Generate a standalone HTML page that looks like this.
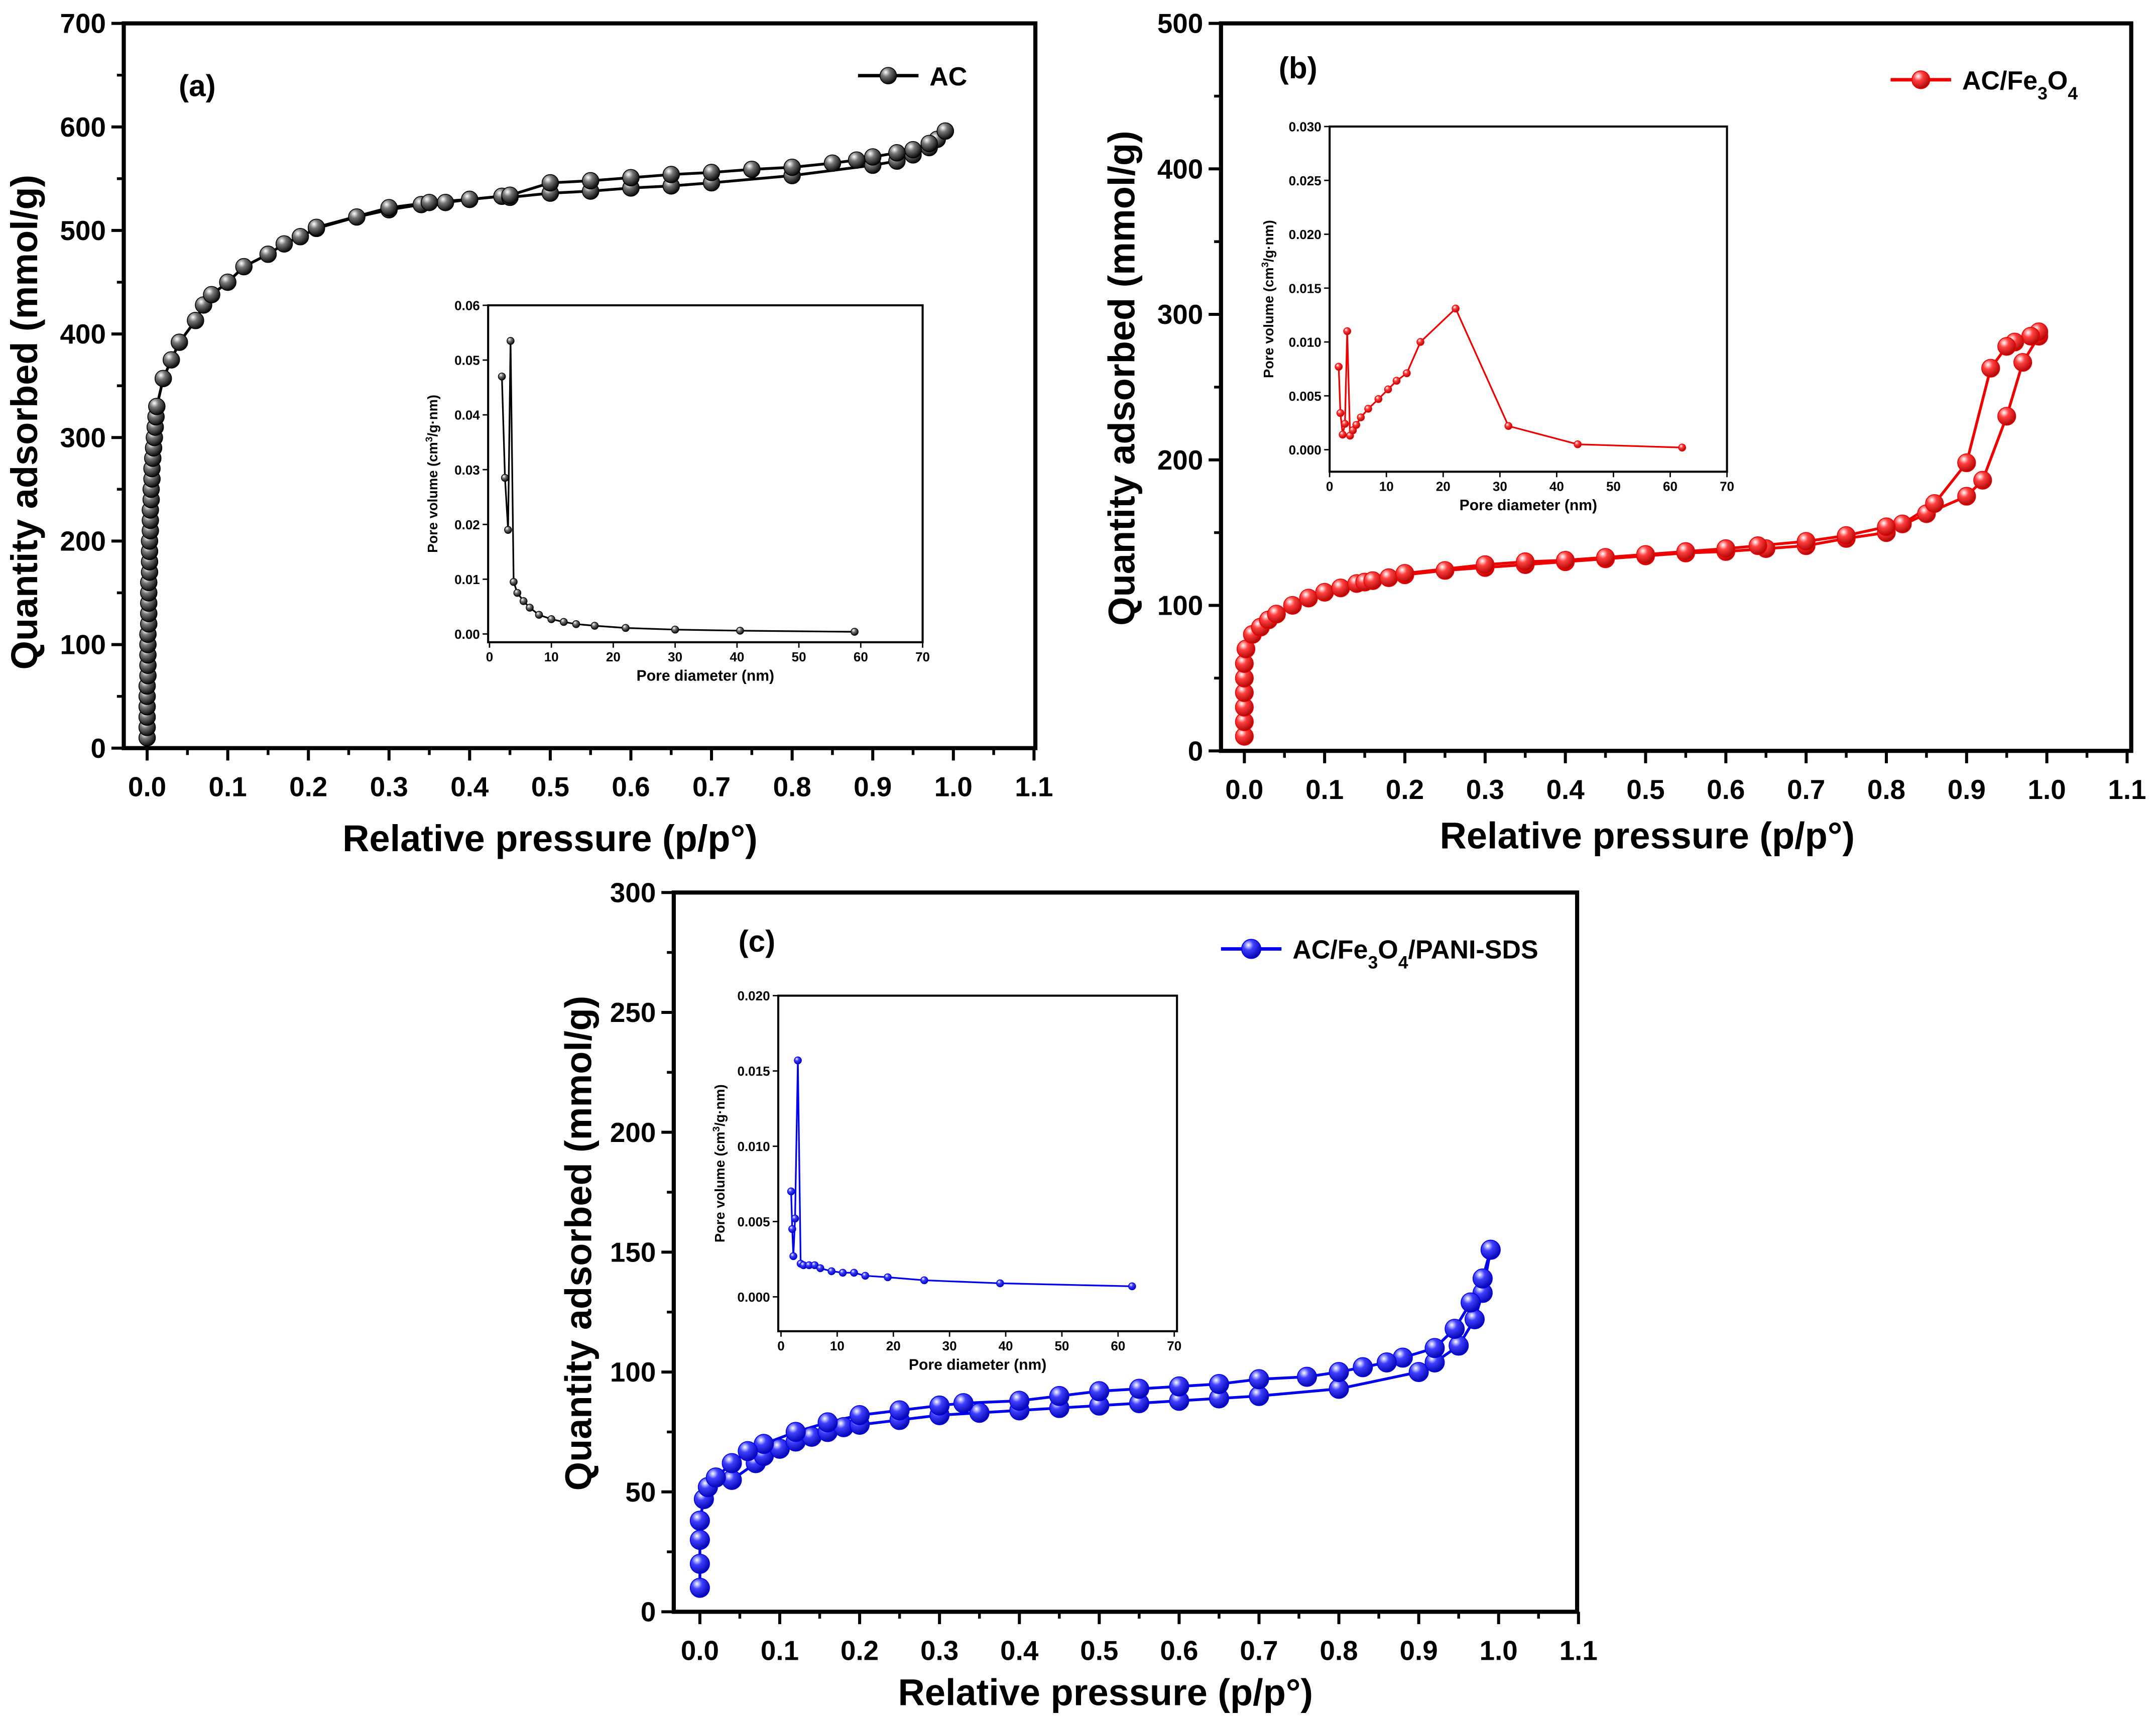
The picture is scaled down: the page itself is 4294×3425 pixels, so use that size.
<!DOCTYPE html>
<html><head><meta charset="utf-8"><style>
html,body{margin:0;padding:0;background:#fff}
svg{display:block}
text{font-family:"Liberation Sans",sans-serif}
</style></head><body>
<svg id="c" xmlns="http://www.w3.org/2000/svg" width="4294" height="3425" viewBox="0 0 1568 1250.7">
<defs>
<radialGradient id="gk" cx="0.35" cy="0.3" r="0.75"><stop offset="0" stop-color="#fff"/><stop offset="0.35" stop-color="#777"/><stop offset="1" stop-color="#000"/></radialGradient>
<radialGradient id="gr" cx="0.35" cy="0.3" r="0.75"><stop offset="0" stop-color="#fff"/><stop offset="0.35" stop-color="#ff4040"/><stop offset="1" stop-color="#a00"/></radialGradient>
<radialGradient id="gb" cx="0.35" cy="0.3" r="0.75"><stop offset="0" stop-color="#fff"/><stop offset="0.35" stop-color="#4040ff"/><stop offset="1" stop-color="#00a"/></radialGradient>
</defs>
</svg>
<script>
// ---- data ----
const aAdsX=[0,0,0,0,0,0,0.001,0.001,0.001,0.001,0.001,0.002,0.002,0.002,0.002,0.002,0.003,0.003,0.003,0.003,0.004,0.004,0.004,0.005,0.005,0.006,0.006,0.007,0.008,0.009,0.01,0.011,0.012,0.02,0.03,0.04,0.06,0.07,0.08,0.1,0.12,0.15,0.17,0.19,0.21,0.26,0.3,0.34,0.37,0.4,0.44,0.45,0.5,0.55,0.6,0.65,0.7,0.8,0.9,0.93,0.95,0.97,0.98,0.99];
const aAdsY=[10,20,30,40,50,60,70,80,90,100,110,120,130,140,150,160,170,180,190,200,210,220,230,240,250,260,270,280,290,300,310,320,330,357,375,392,413,428,438,450,465,477,487,494,502,513,520,525,527,530,533,532,536,538,541,543,546,553,563,567,573,580,588,596];
const aDesX=[0.99,0.97,0.95,0.93,0.9,0.88,0.85,0.8,0.75,0.7,0.65,0.6,0.55,0.5,0.45,0.4,0.35,0.3,0.21];
const aDesY=[596,584,578,575,571,568,565,561,559,556,554,551,548,546,534,530,527,522,503];
const aInX=[2,2.5,3,3.4,3.9,4.5,5.5,6.5,8,10,12,14,17,22,30,40.5,59];
const aInY=[0.047,0.0285,0.019,0.0535,0.0095,0.0075,0.006,0.0048,0.0035,0.0027,0.0022,0.0018,0.0015,0.0011,0.0008,0.0006,0.0004];

const bAdsX=[0,0,0,0,0,0,0.002,0.01,0.02,0.03,0.04,0.06,0.08,0.1,0.12,0.14,0.15,0.16,0.18,0.2,0.25,0.3,0.35,0.4,0.45,0.5,0.55,0.6,0.65,0.7,0.75,0.8,0.85,0.9,0.92,0.95,0.97,0.99];
const bAdsY=[10,20,30,40,50,60,70,80,85,90,94,100,105,109,112,115,116,117,119,121,124,126,128,130,132,134,136,137,139,141,146,150,163,175,186,230,267,285];
const bDesX=[0.99,0.98,0.96,0.95,0.93,0.9,0.86,0.82,0.8,0.75,0.7,0.64,0.6,0.55,0.5,0.45,0.4,0.35,0.3,0.2];
const bDesY=[288,285,281,278,263,198,170,156,154,148,144,141,139,137,135,133,131,130,128,122];
const bInX=[1.6,1.9,2.3,2.7,3.1,3.6,4.1,4.7,5.5,6.8,8.6,10.3,11.8,13.6,16,22.2,31.5,43.7,62.1];
const bInY=[0.0077,0.0034,0.0014,0.0024,0.011,0.0013,0.0018,0.0023,0.003,0.0038,0.0047,0.0056,0.0064,0.0071,0.01,0.0131,0.0022,0.0005,0.0002];

const cAdsX=[0,0,0,0,0.005,0.01,0.04,0.07,0.08,0.1,0.12,0.14,0.16,0.18,0.2,0.25,0.3,0.35,0.4,0.45,0.5,0.55,0.6,0.65,0.7,0.8,0.9,0.92,0.95,0.97,0.98,0.99];
const cAdsY=[10,20,30,38,47,52,55,62,65,68,71,73,75,77,78,80,82,83,84,85,86,87,88,89,90,93,100,104,111,122,133,151];
const cDesX=[0.99,0.98,0.965,0.945,0.92,0.88,0.86,0.83,0.8,0.76,0.7,0.65,0.6,0.55,0.5,0.45,0.4,0.33,0.3,0.25,0.2,0.16,0.12,0.08,0.06,0.04,0.02];
const cDesY=[151,139,129,118,110,106,104,102,100,98,97,95,94,93,92,90,88,87,86,84,82,79,75,70,67,62,56];
const cInX=[1.8,2,2.2,2.5,3,3.5,4,5,6,7,9,11,13,15,19,25.5,39,62.5];
const cInY=[0.007,0.0045,0.0027,0.0052,0.0157,0.0022,0.0021,0.0021,0.0021,0.0019,0.0017,0.0016,0.0016,0.0014,0.0013,0.0011,0.0009,0.0007];

const xTicks=[0,0.1,0.2,0.3,0.4,0.5,0.6,0.7,0.8,0.9,1.0,1.1];
const insetXTicks=[0,10,20,30,40,50,60,70];

const svg=document.getElementById('c');
const NS='http://www.w3.org/2000/svg';
function mk(tag,attrs,parent,text){const e=document.createElementNS(NS,tag);for(const k in attrs)e.setAttribute(k,attrs[k]);if(text!==undefined)e.textContent=text;(parent||svg).appendChild(e);return e;}

function panel(p){
  const g=mk('g',{});
  
  
  const sx=v=>p.x0+(v-0)*(p.x1-p.x0)/1.1;
  const sy=v=>p.y0-(v)*(p.y0-p.yTop)/p.ymax;
  xTicks.forEach((t,i)=>{
    const X=sx(t);
    mk('line',{x1:X,x2:X,y1:p.by2,y2:p.by2+9,stroke:'#000','stroke-width':2.2},g);
    const mx=sx(t+0.05); if(t<1.1) mk('line',{x1:mx,x2:mx,y1:p.by2,y2:p.by2+5,stroke:'#000','stroke-width':2},g);
    const tl=mk('text',{x:X,y:p.by2+35,'text-anchor':'middle','font-size':20,'font-weight':'bold',fill:'#000'},g,t.toFixed(1));
    
    
  });
  for(let v=0;v<=p.ymax+1e-9;v+=p.ystep){
    const Y=sy(v);
    mk('line',{x1:p.bx1-9,x2:p.bx1,y1:Y,y2:Y,stroke:'#000','stroke-width':2.2},g);
    if(v+p.ystep/2<=p.ymax){const my=sy(v+p.ystep/2);mk('line',{x1:p.bx1-5,x2:p.bx1,y1:my,y2:my,stroke:'#000','stroke-width':2},g);}
    const tl=mk('text',{x:p.bx1-13,y:Y+7,'text-anchor':'end','font-size':20,'font-weight':'bold',fill:'#000'},g,String(v));
    
    
  }
  const xt=mk('text',{x:p.xtc,y:p.by2+p.xty,'text-anchor':'middle','font-size':27,'font-weight':'bold'},g,'Relative pressure (p/p°)');
  
  
  const yt=mk('text',{x:0,y:0,'text-anchor':'middle','font-size':27,'font-weight':'bold',transform:`translate(${p.ytx},${p.ytc}) rotate(-90)`},g,'Quantity adsorbed (mmol/g)');
  
  
  const lab=mk('text',{x:p.labx,y:p.laby,'font-size':22,'font-weight':'bold'},g,p.label);
  
  
  const line=(X,Y)=>X.map((v,i)=>`${sx(v)},${sy(Y[i])}`).join(' ');
  [[p.ax,p.ay,'adsorption'],[p.dx,p.dy,'desorption']].forEach(([X,Y,nm])=>{
    const pl=mk('polyline',{points:line(X,Y),fill:'none',stroke:p.col,'stroke-width':2},g);
    
    
  });
  [[p.ax,p.ay],[p.dx,p.dy]].forEach(([X,Y])=>X.forEach((v,i)=>{
    const c=mk('circle',{cx:sx(v),cy:sy(Y[i]),r:p.r,fill:p.grad,stroke:p.col,'stroke-width':0.6},g);
    
    
  }));
  mk('rect',{x:p.bx1,y:p.by1,width:p.bx2-p.bx1,height:p.by2-p.by1,fill:'none',stroke:'#000','stroke-width':3},g);
  const lg=mk('g',{},g);
  
  
  mk('line',{x1:p.lgx,x2:p.lgx+44,y1:p.lgy,y2:p.lgy,stroke:p.col,'stroke-width':2.5},lg);
  mk('circle',{cx:p.lgx+22,cy:p.lgy,r:p.r,fill:p.grad,stroke:p.col,'stroke-width':0.6},lg);
  const lt=mk('text',{x:p.lgx+52,y:p.lgy+7,'font-size':19,'font-weight':'bold'},lg);
  lt.innerHTML=p.legend;
  const I=p.ins;
  const ig=mk('g',{},g);
  
  
  const ix=v=>I.x0+v*(I.x70-I.x0)/70;
  const iy=v=>I.y0-v*(I.y0-I.yTop)/I.ymax;
  mk('rect',{x:I.bx1,y:I.by1,width:I.bx2-I.bx1,height:I.by2-I.by1,fill:'#fff',stroke:'#000','stroke-width':1.5},ig);
  insetXTicks.forEach(t=>{const X=ix(t);mk('line',{x1:X,x2:X,y1:I.by2,y2:I.by2+4,stroke:'#000','stroke-width':1},ig);
    mk('text',{x:X,y:I.by2+14,'text-anchor':'middle','font-size':9.5,'font-weight':'bold'},ig,String(t));});
  for(let k=0;k*I.ystep<=I.ymax+1e-9;k++){const v=k*I.ystep;const Y=iy(v);
    mk('line',{x1:I.bx1-4,x2:I.bx1,y1:Y,y2:Y,stroke:'#000','stroke-width':1},ig);
    mk('text',{x:I.bx1-6,y:Y+3.5,'text-anchor':'end','font-size':9.5,'font-weight':'bold'},ig,v.toFixed(I.dec));}
  mk('text',{x:(I.bx1+I.bx2)/2,y:I.by2+28,'text-anchor':'middle','font-size':11,'font-weight':'bold'},ig,'Pore diameter (nm)');
  const iyt=mk('text',{x:0,y:0,'text-anchor':'middle','font-size':10,'font-weight':'bold',transform:`translate(${I.ytx},${(I.by1+I.by2)/2}) rotate(-90)`},ig);
  iyt.innerHTML='Pore volume (cm<tspan baseline-shift="super" font-size="7">3</tspan>/g·nm)';
  mk('polyline',{points:I.xs.map((v,i)=>`${ix(v)},${iy(I.ys[i])}`).join(' '),fill:'none',stroke:p.col,'stroke-width':1.2},ig);
  I.xs.forEach((v,i)=>{const c=mk('circle',{cx:ix(v),cy:iy(I.ys[i]),r:2.6,fill:p.grad,stroke:p.col,'stroke-width':0.5},ig);
    
    });
}

panel({name:'panel-a-ac',x0:107,x1:752,y0:544,yTop:17,ymax:700,ystep:100,bx1:90,bx2:753,by1:17,by2:544,ytx:27,ytc:307,xtc:400,xty:75,labx:130,laby:70,label:'(a)',
  col:'#000',grad:'url(#gk)',r:6,ax:aAdsX,ay:aAdsY,dx:aDesX,dy:aDesY,lgx:624,lgy:55,legend:'AC',
  ins:{bx1:355,bx2:671,by1:222,by2:467,x0:356,x70:671,y0:461,yTop:222,ymax:0.06,ystep:0.01,dec:2,ytx:318,xs:aInX,ys:aInY}});
panel({name:'panel-b-ac-fe3o4',x0:905,x1:1547,y0:546,yTop:17,ymax:500,ystep:100,bx1:888,bx2:1550,by1:17,by2:546,ytx:825,ytc:275,xtc:1198,xty:71,labx:930,laby:57,label:'(b)',
  col:'#e00',grad:'url(#gr)',r:6.5,ax:bAdsX,ay:bAdsY,dx:bDesX,dy:bDesY,lgx:1375,lgy:58,legend:'AC/Fe<tspan baseline-shift="sub" font-size="13">3</tspan>O<tspan baseline-shift="sub" font-size="13">4</tspan>',
  ins:{bx1:967,bx2:1256,by1:92,by2:343,x0:967,x70:1256,y0:327,yTop:92,ymax:0.03,ystep:0.005,dec:3,ytx:926,xs:bInX,ys:bInY}});
panel({name:'panel-c-ac-fe3o4-pani-sds',x0:509,x1:1148,y0:1172,yTop:649,ymax:300,ystep:50,bx1:490,bx2:1147,by1:649,by2:1172,ytx:430,ytc:904,xtc:804,xty:68,labx:537,laby:692,label:'(c)',
  col:'#00e',grad:'url(#gb)',r:7,ax:cAdsX,ay:cAdsY,dx:cDesX,dy:cDesY,lgx:888,lgy:690,legend:'AC/Fe<tspan baseline-shift="sub" font-size="13">3</tspan>O<tspan baseline-shift="sub" font-size="13">4</tspan>/PANI-SDS',
  ins:{bx1:566,bx2:856,by1:724,by2:968,x0:568,x70:854,y0:943,yTop:724,ymax:0.02,ystep:0.005,dec:3,ytx:527,xs:cInX,ys:cInY}});
</script>
</body></html>
